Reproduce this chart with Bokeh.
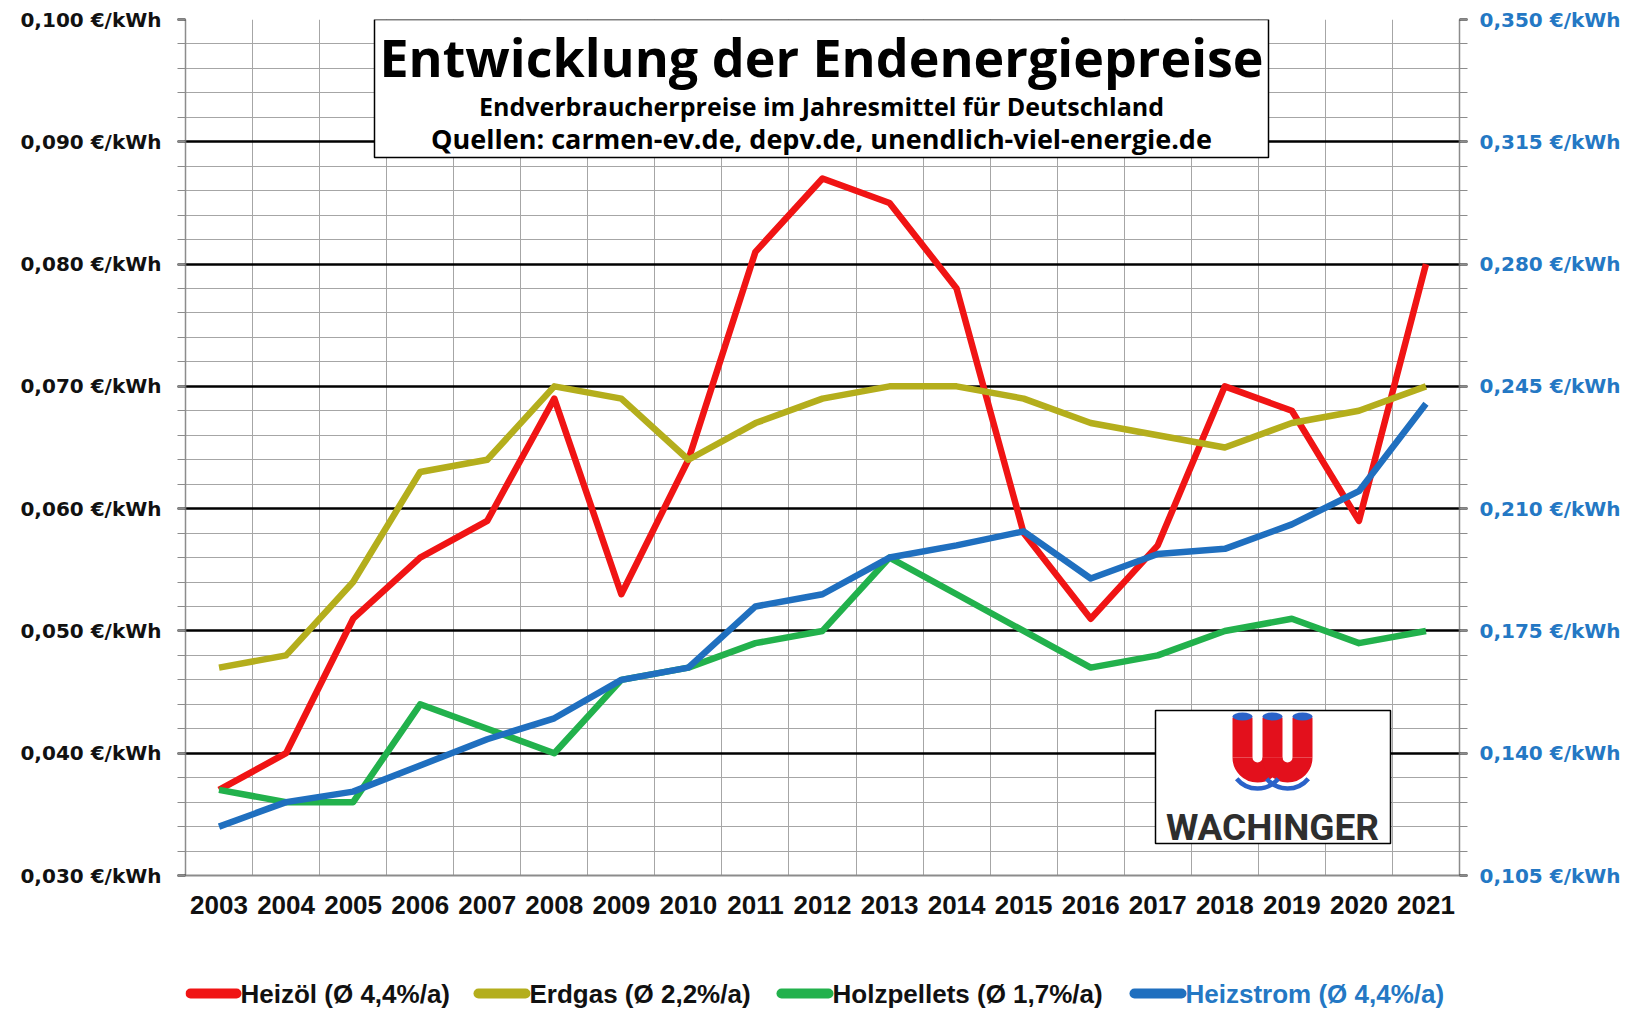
import math
from bokeh.plotting import figure
from bokeh.layouts import column
from bokeh.models import (Range1d, LinearAxis, FixedTicker, CustomJSTickFormatter, Label,
                          ColumnDataSource)
from bokeh.core.properties import value
from bokeh.embed import file_html
from bokeh.resources import INLINE

# ---------------- data ----------------
years = [2003, 2004, 2005, 2006, 2007, 2008, 2009, 2010, 2011, 2012,
         2013, 2014, 2015, 2016, 2017, 2018, 2019, 2020, 2021]
year_labels = [str(y) for y in years]
heizoel = [0.037, 0.040, 0.051, 0.056, 0.059, 0.069, 0.053, 0.064, 0.081, 0.087,
           0.085, 0.078, 0.058, 0.051, 0.057, 0.070, 0.068, 0.059, 0.080]
erdgas = [0.047, 0.048, 0.054, 0.063, 0.064, 0.070, 0.069, 0.064, 0.067, 0.069,
          0.070, 0.070, 0.069, 0.067, 0.066, 0.065, 0.067, 0.068, 0.070]
holzpellets = [0.037, 0.036, 0.036, 0.044, 0.042, 0.040, 0.046, 0.047, 0.049, 0.050,
               0.056, 0.053, 0.050, 0.047, 0.048, 0.050, 0.051, 0.049, 0.050]
heizstrom = [0.119, 0.126, 0.129, 0.1365, 0.144, 0.150, 0.161, 0.1645, 0.182, 0.1855,
             0.196, 0.1995, 0.2035, 0.190, 0.197, 0.1985, 0.2055, 0.215, 0.240]
series_labels = ["Heizöl (Ø 4,4%/a)", "Erdgas (Ø 2,2%/a)",
                 "Holzpellets (Ø 1,7%/a)", "Heizstrom (Ø 4,4%/a)"]
left_ticks = [0.030, 0.040, 0.050, 0.060, 0.070, 0.080, 0.090, 0.100]
right_ticks = [0.105, 0.140, 0.175, 0.210, 0.245, 0.280, 0.315, 0.350]
title_lines = ["Entwicklung der Endenergiepreise",
               "Endverbraucherpreise im Jahresmittel für Deutschland",
               "Quellen: carmen-ev.de, depv.de, unendlich-viel-energie.de"]
logo_text = "WACHINGER"

# ---------------- styling / layout ----------------
RED, OLIVE, GREEN, BLUE = "#f01414", "#b4ae1c", "#22b14c", "#1f6fbf"
LBLUE = "#2478c4"
series_colors = [RED, OLIVE, GREEN, BLUE]
label_colors = ["#111111", "#111111", "#111111", LBLUE]

FRAME_W, FRAME_H = 1274, 856
BL, BR, BT, BB = 185, 176, 19, 60
X0, X1 = 2002.5, 2021.5
Y0, Y1 = 0.030, 0.100


def px_x(fx):
    return X0 + (fx - BL) * (X1 - X0) / FRAME_W


def px_y(fy):
    return Y1 - (fy - BT) * (Y1 - Y0) / FRAME_H


W_TOT = FRAME_W + BL + BR
P_H = FRAME_H + BT + BB
p = figure(width=W_TOT, height=P_H,
           frame_width=FRAME_W, frame_height=FRAME_H,
           min_border_left=BL, min_border_right=BR, min_border_top=BT, min_border_bottom=BB,
           x_range=Range1d(X0, X1), y_range=Range1d(Y0, Y1),
           output_backend="svg", toolbar_location=None, tools="")
p.outline_line_color = None
p.background_fill_color = "white"
p.border_fill_color = "white"
p.extra_y_ranges = {"strom": Range1d(0.105, 0.350)}

fmt = CustomJSTickFormatter(code="return tick.toFixed(3).replace('.', ',') + ' €/kWh';")

left_minor = [round(left_ticks[0] + 0.002 * i, 4) for i in range(36)]
right_minor = [round(right_ticks[0] + 0.007 * i, 4) for i in range(36)]


def style_y(ax, color, standoff):
    ax.axis_line_color = "#8c8c8c"
    ax.axis_line_width = 1.5
    ax.major_tick_out = 8
    ax.major_tick_in = 0
    ax.minor_tick_out = 8
    ax.minor_tick_in = 0
    ax.major_tick_line_color = "black"
    ax.major_tick_line_width = 2
    ax.minor_tick_line_color = "#8c8c8c"
    ax.major_label_standoff = standoff
    ax.major_label_text_font = "DejaVu Sans"
    ax.major_label_text_font_style = "bold"
    ax.major_label_text_font_size = "20px"
    ax.major_label_text_color = color


ya = p.yaxis[0]
ya.ticker = FixedTicker(ticks=left_ticks, minor_ticks=left_minor)
ya.formatter = fmt
style_y(ya, "#111111", 16)

ra = LinearAxis(y_range_name="strom", ticker=FixedTicker(ticks=right_ticks, minor_ticks=right_minor),
                formatter=fmt)
style_y(ra, LBLUE, 12)
p.add_layout(ra, "right")

xa = p.xaxis[0]
xa.ticker = FixedTicker(ticks=years)
xa.major_label_overrides = {y: l for y, l in zip(years, year_labels)}
xa.axis_line_color = "#8c8c8c"
xa.axis_line_width = 2
xa.major_tick_out = 0
xa.major_tick_in = 0
xa.minor_tick_out = 0
xa.minor_tick_in = 0
xa.major_label_standoff = 20
xa.major_label_text_font = "Liberation Sans"
xa.major_label_text_font_style = "bold"
xa.major_label_text_font_size = "26px"
xa.major_label_text_color = "#111111"

p.ygrid.grid_line_color = "black"
p.ygrid.grid_line_width = 2.5
p.ygrid.minor_grid_line_color = "#a6a6a6"
p.ygrid.minor_grid_line_width = 1
p.xgrid.ticker = FixedTicker(ticks=[y + 0.5 for y in years[:-1]])
p.xgrid.grid_line_color = "#a6a6a6"
p.xgrid.grid_line_width = 1

# ---------------- series ----------------
p.line(years, heizoel, line_color=RED, line_width=6.5, line_join="round")
p.line(years, erdgas, line_color=OLIVE, line_width=6.5, line_join="round")
p.line(years, holzpellets, line_color=GREEN, line_width=6.5, line_join="round")
p.line(years, heizstrom, line_color=BLUE, line_width=6.5, line_join="round",
       y_range_name="strom")

# ---------------- title box ----------------
p.quad(left=[px_x(374)], right=[px_x(1268)], top=[px_y(19)], bottom=[px_y(157)],
       fill_color="white", line_color="black", line_width=1.5)
tx = px_x(821)
for txt, fy, fs in zip(title_lines, [56, 105, 138], ["52px", "25px", "27px"]):
    p.add_layout(Label(x=tx, y=px_y(fy), text=txt, text_align="center", text_baseline="middle",
                       text_font="Open Sans", text_font_style="bold", text_font_size=fs,
                       text_color="black"))

# ---------------- logo ----------------
p.quad(left=[px_x(1155)], right=[px_x(1390)], top=[px_y(710)], bottom=[px_y(843)],
       fill_color="white", line_color="black", line_width=1.5)
tubes = [1242, 1272, 1302]
p.segment(x0=[px_x(t) for t in tubes], y0=[px_y(717)] * 3,
          x1=[px_x(t) for t in tubes], y1=[px_y(757)] * 3,
          line_color="#e3101c", line_width=20)
p.arc(x=[px_x(1257), px_x(1287)], y=[px_y(757)] * 2, radius=15, radius_units="screen",
      start_angle=math.pi, end_angle=2 * math.pi, direction="anticlock",
      line_color="#e3101c", line_width=20)
p.ellipse(x=[px_x(t) for t in tubes], y=[px_y(716)] * 3, width=20, height=8,
          width_units="screen", height_units="screen", fill_color="#2a62c9", line_color=None)
p.arc(x=[px_x(1257), px_x(1287)], y=[px_y(761)] * 2, radius=27, radius_units="screen",
      start_angle=1.22 * math.pi, end_angle=1.78 * math.pi, direction="anticlock",
      line_color="#2a62c9", line_width=4.5)
p.add_layout(Label(x=px_x(1272), y=px_y(827), text=logo_text, text_align="center",
                   text_baseline="middle", text_font="Roboto", text_font_style="bold",
                   text_font_size="37px", text_color="#2e2e2e"))

# ---------------- legend (separate strip, frame aligned with the chart) ----------------
LEG_H = 78
q = figure(width=W_TOT, height=LEG_H, frame_width=FRAME_W, frame_height=LEG_H,
           min_border_left=BL, min_border_right=BR, min_border_top=0, min_border_bottom=0,
           x_range=Range1d(BL, BL + FRAME_W), y_range=Range1d(0, LEG_H),
           output_backend="svg", toolbar_location=None, tools="")
q.axis.visible = False
q.grid.visible = False
q.outline_line_color = None
q.background_fill_color = "white"
q.border_fill_color = "white"

leg_line_x0 = [190, 478, 781, 1134]
leg_line_x1 = [236, 525, 828, 1181]
leg_y = LEG_H - (993 - P_H)
src = ColumnDataSource(dict(x0=leg_line_x0, x1=leg_line_x1, y=[leg_y] * 4,
                            tx=[x + 4 for x in leg_line_x1], label=series_labels,
                            color=series_colors, tcolor=label_colors))
q.segment(x0="x0", y0="y", x1="x1", y1="y", color="color", line_width=10, line_cap="round",
          source=src)
q.text(x="tx", y="y", text="label", text_color="tcolor", text_baseline="middle",
       text_font=value("Liberation Sans"), text_font_style="bold", text_font_size="26px",
       source=src)

layout = column(p, q, spacing=0)
open("out.html", "w").write(file_html(layout, INLINE))
